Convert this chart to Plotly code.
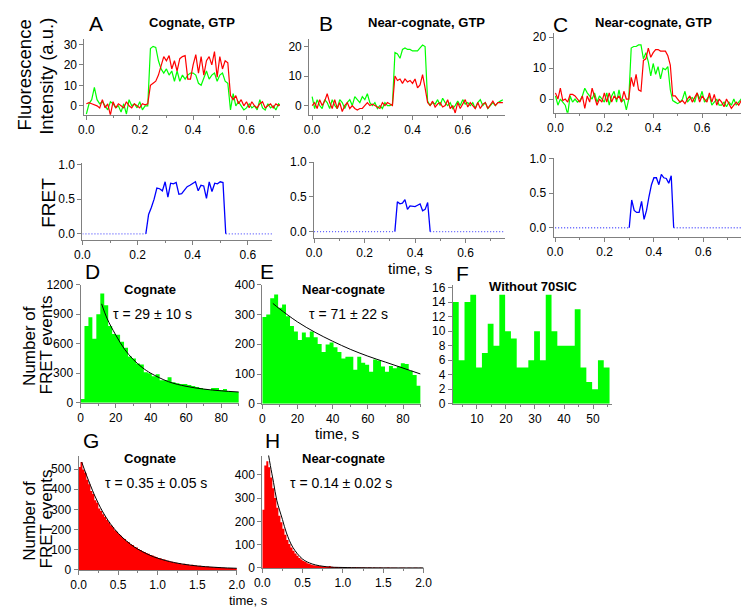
import numpy as np
import plotly.graph_objects as go

W, H = 749, 607
FONT = "Arial, 'Liberation Sans', sans-serif"
AXC = "#808080"
GREEN = "#00ff00"
RED = "#ff0000"
BLUE = "#0000ff"

# ---------------- data: single-molecule traces (frame = 0.01 s) ----------------
frame_s = 0.01
a_green = [-4, 1, 3, 9, 3, 1, 2, 0, -2, 2, 1, -1, 0, -3, 1, -4, 3, 0, 1, -1,
           2, -2, 0, 0, 28, 29, 28.5, 22, 18, 16, 18, 15, 17, 12, 17, 12, 15, 13, 15, 16,
           16, 15, 11, 10, 14, 17, 13, 15, 16, 12, 15, 16, 12, 11, -2, 6, 0, 2, 0, -2,
           -1, 1, -1, 0, -2, 3, -1, -2, 1, -1, 0, -2, 1, 0]
a_red = [1, 1.5, 1, 0.5, 0, -1, 3, -1, 1, -4.5, 2, -1, 1, 0, -1, 2, 0, -1, 1, 0,
         -1, 1, 0.5, 1, 10, 11, 12, 15, 20, 24, 22, 24.5, 18, 22, 17, 23, 24, 24.5, 13, 13,
         20, 25, 16, 24, 15, 22, 24, 20, 26.5, 14, 24, 18, 22, 21, 5, 3, 5, 1, 3, 0,
         2, -1, 2, 0, -1, 1, 2, -1, 0, 1, -1, 1, 0, 1]
b_green = [3, -1, 2, 0, -1, 2, 1, -1, 2, 0, -1, 2, 1, -1, 1, 2, 0, 3, 2, 1,
           3, 2, 4, 1, 0, 1, -1, 0, -1, 1, 0, 0, 0.5, 18, 17.5, 16, 19, 19.5, 19, 19,
           18.5, 18.5, 18.5, 19.5, 20.5, 20, 1.5, 0, 1, 0.5, 2, 0, 2.5, 1, 0, 1, -1, 0, 1.5, 0,
           2, 0.5, 1, 0, 1, -1, 1, 2, 0, 1, -1, 0, 1, 0, 1, 1.5, 2]
b_red = [0, 1, -1, 2, 0, 1.5, 4, 1, -1, 2, -1, 1, -2, 0, 1, -1, 0, -1, -1.5, -1,
         -1, 0, 1, 0, 0.5, 0, -0.5, -1, 1, 0, 1, 0.5, 0, 10, 8.5, 9, 7.5, 9, 8, 8.5,
         7.5, 9, 6, 7, 10.5, 6, 1, 0, 1.5, -0.5, 0.5, 1, -0.5, 0, 2, -1, 0, -2.5, 1, -1,
         0.5, 2, -0.5, 1, 0, -1, 1, -1, 0.5, 1, -1, 0.5, 1.5, 0, 1, 1, 1]
c_green = [1, -2, 0, -1, -2, -5, 1, -1, 0, -1, -0.5, 1, 3.5, 2, 1, 0, 2, -1, 1, 0,
           -1, 2, -2, 1, 2.5, -1, 3, -1, 0, -3.5, 0, 16.5, 17, 17, 17.5, 17.5, 13, 15, 12, 7.5,
           11.5, 8, 10.5, 6.5, 10, 9.5, 10.5, 3, -0.5, -1, -1.5, -1, 0, 2.5, -1, 0, 0.5, -1, 2, 0,
           2.5, -1, 0, 1, -2, -1, 0, -2, -2, -1, -2.5, -1, -2, 0, -2, -1, 0, -1, 2]
c_red = [2, 0, 3.5, -0.5, 0, -1, 1.5, 1.5, 1, 0, -1, 1, -3, 1, -1, 3.5, 1, -2, 0, -1,
         2, -1, 2, -1, 1, 0, 1, -1, 2.5, 0, 0, 7, 4, 8, 3, 2.5, 12.5, 13, 16.5, 13.5,
         15, 16, 16, 15.5, 15.5, 15.5, 14, 11, 1, 1, 0, -1, -0.5, -1.5, 0, 1, -1, 0.5, 2, -1,
         1, 0, -1, 2, -1, 1.5, -2, 0, -1, -2.5, 0, -1.5, -3, -2, -1, -2, -0.5, 0, -1]

fret_a = [0.0] * 24 + [0.28, 0.38, 0.50, 0.66, 0.65, 0.62, 0.75, 0.53, 0.73, 0.72,
                       0.74, 0.57, 0.58, 0.63, 0.68, 0.70, 0.72, 0.75, 0.62, 0.70,
                       0.69, 0.51, 0.75, 0.61, 0.73, 0.72, 0.75, 0.74] + [0.0] * 18
fret_b = [0.0] * 33 + [0.43, 0.40, 0.41, 0.46, 0.32, 0.37, 0.36, 0.36, 0.38, 0.40,
                       0.30, 0.32, 0.42] + [0.0] * 30
fret_c = [0.0] * 31 + [0.40, 0.25, 0.22, 0.22, 0.38, 0.12, 0.25, 0.45, 0.62, 0.72,
                       0.72, 0.62, 0.77, 0.72, 0.71, 0.64, 0.75] + [0.0] * 31

# ---------------- data: dwell-time histograms ----------------
d_bin = 2.25
d_counts = [40, 780, 870, 650, 900, 1110, 990, 780, 700, 690,
            620, 560, 470, 450, 400, 390, 310, 300, 270, 290,
            230, 230, 260, 210, 200, 190, 190, 180, 170, 160,
            150, 140, 130, 150, 150, 130, 140, 120, 110, 110]
d_fit_t = [12, 15, 20, 25, 30, 35, 40, 50, 60, 70, 80, 90]
d_fit_y = [1005, 860, 690, 545, 440, 360, 300, 215, 168, 140, 122, 110]

e_bin = 2.25
e_counts = [291, 300, 354, 367, 322, 333, 294, 261, 243, 214,
            239, 223, 243, 223, 201, 174, 199, 206, 190, 174,
            152, 158, 158, 114, 158, 138, 131, 108, 149, 145,
            125, 108, 127, 119, 125, 136, 134, 111, 97, 61]
e_fit_t = [6, 10, 20, 30, 40, 50, 60, 70, 80, 90]
e_fit_y = [337, 318, 275, 240, 210, 183, 160, 140, 120, 100]

f_bin = 2.0
f_start = 1.7
f_counts = [14, 6, 14, 15, 5, 7, 11, 8, 15, 10, 9, 5, 5, 6, 10, 6, 15, 10, 8, 8,
            8, 13, 5, 3, 2, 6, 5]

g_bin = 0.025
g_counts = [510, 535, 498, 482, 447, 425, 392, 376, 346, 333,
            305, 292, 276, 262, 247, 236, 221, 212, 197, 189,
            178, 170, 158, 153, 142, 137, 127, 123, 114, 111,
            102, 99, 91, 89, 82, 80, 74, 72, 66, 64,
            58, 58, 51, 51, 46, 45, 40, 41, 36, 36,
            32, 33, 28, 30, 26, 27, 23, 25, 21, 22,
            19, 20, 17, 18, 16, 17, 14, 15, 13, 14,
            12, 13, 11, 11, 10, 10, 9, 9, 8, 8]
g_fit_t = [0.04, 0.1, 0.15, 0.2, 0.25, 0.3, 0.4, 0.5, 0.6, 0.7, 0.8, 0.9, 1.0, 1.2, 1.4, 1.6, 1.8, 2.0]
g_fit_y = [535, 470, 420, 372, 330, 292, 230, 182, 145, 115, 92, 73, 58, 37, 24, 16, 11, 8]

h_bin = 0.025
h_counts = [250, 440, 458, 432, 388, 342, 300, 258, 224, 196,
            168, 142, 120, 103, 88, 74, 62, 52, 43, 36,
            30, 25, 20, 17, 14, 12, 10, 9, 8, 7,
            6, 6, 5, 8, 5, 4, 4, 4, 3, 3,
            3, 3, 2, 3, 2, 2, 3, 2, 2, 2,
            2, 1, 2, 2, 1, 2, 1, 1, 2, 1,
            1, 1, 2, 1, 1, 1, 1, 0, 1, 1,
            1, 0, 1, 1, 0, 1, 1, 0, 1, 0]
h_fit_t = [0.075, 0.1, 0.14, 0.18, 0.25, 0.3, 0.38, 0.5, 0.62, 0.8, 1.0, 1.5, 2.0]
h_fit_y = [490, 440, 366, 290, 208, 150, 88, 38, 17, 5, 2, 0.3, 0.1]

# ---------------- layout helpers ----------------
layout = {}
fig = go.Figure()


def xdom(x0, x1):
    return [x0 / W, x1 / W]


def ydom(top, bot):
    return [1 - bot / H, 1 - top / H]


def add_axes(i, xd, yd, xr, yr, xt0, xdt, yt0, ydt, xfmt="", yfmt="", xminor=None, yminor=None):
    sx = "" if i == 1 else str(i)
    common = dict(showline=True, linecolor=AXC, linewidth=1, ticks="outside", ticklen=4,
                  tickwidth=1, tickcolor=AXC, showgrid=False, zeroline=False,
                  tickfont=dict(family=FONT, size=12, color="black"), fixedrange=True)
    xa = dict(domain=xd, range=xr, anchor="y" + sx, tick0=xt0, dtick=xdt, tickformat=xfmt, **common)
    ya = dict(domain=yd, range=yr, anchor="x" + sx, tick0=yt0, dtick=ydt, tickformat=yfmt, **common)
    if xminor:
        xa["minor"] = dict(dtick=xminor, tick0=0, ticks="outside", ticklen=2, tickcolor=AXC)
    if yminor:
        ya["minor"] = dict(dtick=yminor, tick0=0, ticks="outside", ticklen=2, tickcolor=AXC)
    layout["xaxis" + sx] = xa
    layout["yaxis" + sx] = ya
    return "x" + sx, "y" + sx


def times(vals):
    return np.round(np.arange(len(vals)) * frame_s, 3)


def add_intensity(ax, green, red):
    t = times(green)
    fig.add_trace(go.Scatter(x=t, y=green, mode="lines", line=dict(color=GREEN, width=1.2),
                             xaxis=ax[0], yaxis=ax[1]))
    fig.add_trace(go.Scatter(x=t, y=red, mode="lines", line=dict(color=RED, width=1.2),
                             xaxis=ax[0], yaxis=ax[1]))


def add_fret(ax, fret):
    t = times(fret)
    f = np.array(fret)
    nz = np.nonzero(f)[0]
    i0, i1 = nz[0] - 1, nz[-1] + 1
    dot = dict(color="#5a5aff", width=1.3, dash="1px,2px")
    fig.add_trace(go.Scatter(x=t[:i0 + 1], y=f[:i0 + 1], mode="lines", line=dot,
                             xaxis=ax[0], yaxis=ax[1]))
    fig.add_trace(go.Scatter(x=t[i1:], y=f[i1:], mode="lines", line=dot,
                             xaxis=ax[0], yaxis=ax[1]))
    fig.add_trace(go.Scatter(x=t[i0:i1 + 1], y=f[i0:i1 + 1], mode="lines",
                             line=dict(color=BLUE, width=1.3),
                             xaxis=ax[0], yaxis=ax[1]))


def add_hist(ax, counts, width, start, color):
    # histogram drawn as a filled step outline (bin edges -> counts), no gaps between bins
    edges = start + width * np.arange(len(counts) + 1)
    heights = list(counts) + [counts[-1]]
    xs = np.concatenate([[edges[0]], edges, [edges[-1]]])
    ys = [0] + heights + [0]
    fig.add_trace(go.Scatter(x=xs, y=ys, mode="lines", line=dict(width=0, shape="hv", color=color),
                             fill="toself", fillcolor=color, xaxis=ax[0], yaxis=ax[1]))


def add_fit(ax, tx, ty):
    fig.add_trace(go.Scatter(x=tx, y=ty, mode="lines",
                             line=dict(color="black", width=1, shape="spline"),
                             xaxis=ax[0], yaxis=ax[1]))


# ---------------- panels ----------------
axA = add_axes(1, xdom(70, 270), ydom(25, 102), [-0.0073, 0.725], [-4.3, 32.4], 0, 0.2, 0, 10, ".1f", "", 0.1)
axB = add_axes(2, xdom(300, 500), ydom(25, 102), [-0.0117, 0.767], [-3.08, 22.4], 0, 0.2, 0, 10, ".1f", "", 0.1)
axC = add_axes(3, xdom(550, 749), ydom(18, 100), [-0.008, 0.788], [-4.42, 21.5], 0, 0.2, 0, 10, ".1f", "", 0.1)
axFA = add_axes(4, xdom(68, 262), ydom(152, 230), [0, 0.688], [-0.0845, 1.014], 0, 0.2, 0, 0.5, ".1f", ".1f", 0.1)
axFB = add_axes(5, xdom(305, 500), ydom(150, 228), [0, 0.755], [-0.089, 1.01], 0, 0.2, 0, 0.5, ".1f", ".1f", 0.1)
axFC = add_axes(6, xdom(550, 749), ydom(146, 227), [-0.0067, 0.781], [-0.13, 1.01], 0, 0.2, 0, 0.5, ".1f", ".1f", 0.1)
axD = add_axes(7, xdom(66, 228), ydom(276, 397), [0, 90], [0, 1200], 0, 20, 0, 300, "", "", 10)
axE = add_axes(8, xdom(252, 414), ydom(276, 398), [0, 90], [0, 400], 0, 20, 0, 100, "", "", 10)
axF = add_axes(9, xdom(447, 610), ydom(276, 398), [1.68, 56.6], [0, 16.4], 0, 10, 0, 2, "", "", 5)
axG = add_axes(10, xdom(64, 226), ydom(451, 568), [0, 2], [0, 567], 0, 0.5, 0, 100, ".1f", "", 0.25)
axH = add_axes(11, xdom(252, 417), ydom(451, 566), [0, 2], [0, 482], 0, 0.5, 0, 100, ".1f", "", 0.25)

add_intensity(axA, a_green, a_red)
add_intensity(axB, b_green, b_red)
add_intensity(axC, c_green, c_red)
add_fret(axFA, fret_a)
add_fret(axFB, fret_b)
add_fret(axFC, fret_c)

add_hist(axD, d_counts, d_bin, 0, GREEN)
add_fit(axD, d_fit_t, d_fit_y)
add_hist(axE, e_counts, e_bin, 0, GREEN)
add_fit(axE, e_fit_t, e_fit_y)
add_hist(axF, f_counts, f_bin, f_start, GREEN)
add_hist(axG, g_counts, g_bin, 0, RED)
add_fit(axG, g_fit_t, g_fit_y)
add_hist(axH, h_counts, h_bin, 0, RED)
add_fit(axH, h_fit_t, h_fit_y)

# ---------------- text ----------------
annotations = []


def ann(text, px, py, size=12, bold=False, angle=0):
    if bold:
        text = "<b>" + text + "</b>"
    annotations.append(dict(text=text, x=px / W, y=1 - py / H, xref="paper", yref="paper",
                            xanchor="center", yanchor="middle", showarrow=False, textangle=angle,
                            font=dict(family=FONT, size=size, color="black")))


for letter, px, py in [("A", 82, 9), ("B", 317, 9), ("C", 557, 10), ("D", 78, 263),
                       ("E", 257, 263), ("F", 457, 265), ("G", 77, 436), ("H", 262, 436)]:
    ann(letter, px, py, 21)

ann("Cognate, GTP", 180, 8, 13, True)
ann("Near-cognate, GTP", 420, 8, 13, True)
ann("Near-cognate, GTP", 652, 8, 13, True)
ann("Fluorescence", 9, 61, 18.5, angle=-90)
ann("Intensity (a.u.)", 31, 63, 18.5, angle=-90)
ann("FRET", 33, 192, 19, angle=-90)
ann("time, s", 403, 259, 15)
ann("Cognate", 137, 281, 13, True)
ann("Near-cognate", 335, 281, 13, True)
ann("Without 70SIC", 530, 278, 13, True)
ann("τ = 29 ± 10 s", 140, 306, 14)
ann("τ = 71 ± 22 s", 340, 306, 14)
ann("Number of", 13, 339, 17, angle=-90)
ann("FRET events", 31, 338, 17, angle=-90)
ann("time, s", 328, 428, 15)
ann("Cognate", 137, 454, 13, True)
ann("Near-cognate", 335, 454, 13, True)
ann("τ = 0.35 ± 0.05 s", 143, 479, 14)
ann("τ = 0.14 ± 0.02 s", 333, 479, 14)
ann("Number of", 13, 518, 17, angle=-90)
ann("FRET events", 31, 516, 17, angle=-90)
ann("time, s", 238, 599, 13)

fig.update_layout(width=W, height=H, margin=dict(l=0, r=0, t=0, b=0),
                  paper_bgcolor="white", plot_bgcolor="white", showlegend=False,
                  annotations=annotations, font=dict(family=FONT), **layout)

fig.write_html("out.html")
